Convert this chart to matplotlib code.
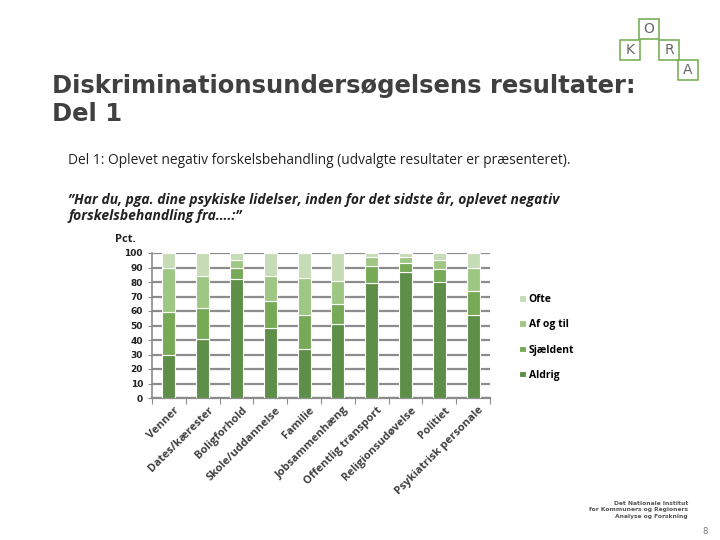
import matplotlib.pyplot as plt
import numpy as np
from matplotlib.patches import Rectangle

# Data (percent)
CATEGORIES = ["Venner", "Dates/kærester", "Boligforhold", "Skole/uddannelse",
              "Familie", "Jobsammenhæng", "Offentlig transport",
              "Religionsudøvelse", "Politiet", "Psykiatrisk personale"]
ALDRIG = [30, 41, 82, 48, 34, 51, 79, 87, 80, 57]
SJAELDENT = [29, 21, 8, 19, 23, 14, 12, 6, 9, 17]
AF_OG_TIL = [31, 22, 5, 17, 26, 16, 6, 4, 6, 16]
OFTE = [10, 16, 5, 16, 17, 19, 3, 3, 5, 10]

SERIES = [("Aldrig", ALDRIG, "#5e8f48"),
          ("Sjældent", SJAELDENT, "#77aa57"),
          ("Af og til", AF_OG_TIL, "#9ec784"),
          ("Ofte", OFTE, "#c6dcb6")]

TEXT = "#404040"
GREEN = "#7ab05a"


def main():
    fig = plt.figure(figsize=(7.2, 5.4), dpi=100)
    fig.patch.set_facecolor("white")

    # Title and text block
    fig.text(52 / 720, 1 - 74 / 540, "Diskriminationsundersøgelsens resultater:\nDel 1",
             fontsize=17.5, fontweight="bold", color=TEXT, va="top",
             family="DejaVu Sans", linespacing=1.2)
    fig.text(68 / 720, 1 - 161 / 540,
             "Del 1: Oplevet negativ forskelsbehandling (udvalgte resultater er præsenteret).",
             fontsize=9.9, color="#222222", va="center", family="Open Sans")
    fig.text(68 / 720, 1 - 192 / 540,
             "”Har du, pga. dine psykiske lidelser, inden for det sidste år, oplevet negativ\n"
             "forskelsbehandling fra….:”",
             fontsize=10, color="#222222", va="top", style="italic",
             fontweight="bold", family="Open Sans", linespacing=1.2)
    fig.text(115 / 720, 1 - 240 / 540, "Pct.", fontsize=8, fontweight="bold",
             color="#222222", va="center", family="Open Sans")

    # Chart
    ax = fig.add_axes([152 / 720, 1 - 398 / 540, 338 / 720, 145 / 540])
    x = np.arange(len(CATEGORIES))
    bottom = np.zeros(len(CATEGORIES))
    handles = {}
    for name, vals, color in SERIES:
        b = ax.bar(x, vals, width=0.39, bottom=bottom, color=color,
                   edgecolor="white", linewidth=0.8, zorder=3)
        handles[name] = b
        bottom += np.array(vals)

    ax.set_xlim(-0.5, len(CATEGORIES) - 0.5)
    ax.set_ylim(0, 100)
    ax.set_yticks(np.arange(0, 101, 10))
    ax.yaxis.grid(True, color="#8c8c8c", linewidth=1.6, zorder=0)
    ax.set_axisbelow(True)
    for s in ["top", "right"]:
        ax.spines[s].set_visible(False)
    ax.spines["left"].set_color("#8c8c8c")
    ax.spines["bottom"].set_color("#8c8c8c")
    ax.spines["left"].set_linewidth(1.2)
    ax.spines["bottom"].set_linewidth(1.6)
    ax.tick_params(axis="y", length=3, color="#8c8c8c", labelsize=6.5,
                   labelcolor="#222222")
    for lbl in ax.get_yticklabels():
        lbl.set_fontweight("bold")

    ax.set_xticks(np.arange(-0.5, len(CATEGORIES) + 0.5, 1))
    ax.set_xticklabels([])
    ax.tick_params(axis="x", length=4, color="#8c8c8c", direction="out")
    ax.set_xticks(x + 0.15, minor=True)
    ax.set_xticklabels(CATEGORIES, minor=True, rotation=45, ha="right",
                       rotation_mode="anchor", fontsize=8, fontweight="bold",
                       color=TEXT, family="Open Sans")
    ax.tick_params(axis="x", which="minor", length=0, pad=5)

    # Legend
    order = ["Ofte", "Af og til", "Sjældent", "Aldrig"]
    fig.legend([handles[n] for n in order], order, loc="upper left",
               bbox_to_anchor=(510 / 720, 1 - 285 / 540), frameon=False,
               handlelength=0.6, handleheight=0.6, labelspacing=1.35,
               handletextpad=0.3, prop={"size": 7.5, "weight": "bold",
                                        "family": "Open Sans"})

    # KORA logo
    logo = [(639, 19, "O"), (620, 40, "K"), (659, 40, "R"), (678, 60, "A")]
    for lx, ly, letter in logo:
        fig.patches.append(Rectangle((lx / 720, 1 - (ly + 20) / 540), 20 / 720, 20 / 540,
                                     transform=fig.transFigure, fill=False,
                                     edgecolor=GREEN, linewidth=1.2))
        fig.text((lx + 10) / 720, 1 - (ly + 10) / 540, letter, ha="center",
                 va="center", fontsize=10, color="#666666")

    # Footer
    fig.text(688 / 720, 1 - 510 / 540,
             "Det Nationale Institut\nfor Kommuners og Regioners\nAnalyse og Forskning",
             ha="right", va="center", fontsize=4.3, fontweight="bold",
             color="#555555", linespacing=1.35)
    fig.text(708 / 720, 1 - 532 / 540, "8", ha="right", va="center",
             fontsize=6, color="#777777")

    fig.savefig("out.png", dpi=100, facecolor="white")


if __name__ == "__main__":
    main()
